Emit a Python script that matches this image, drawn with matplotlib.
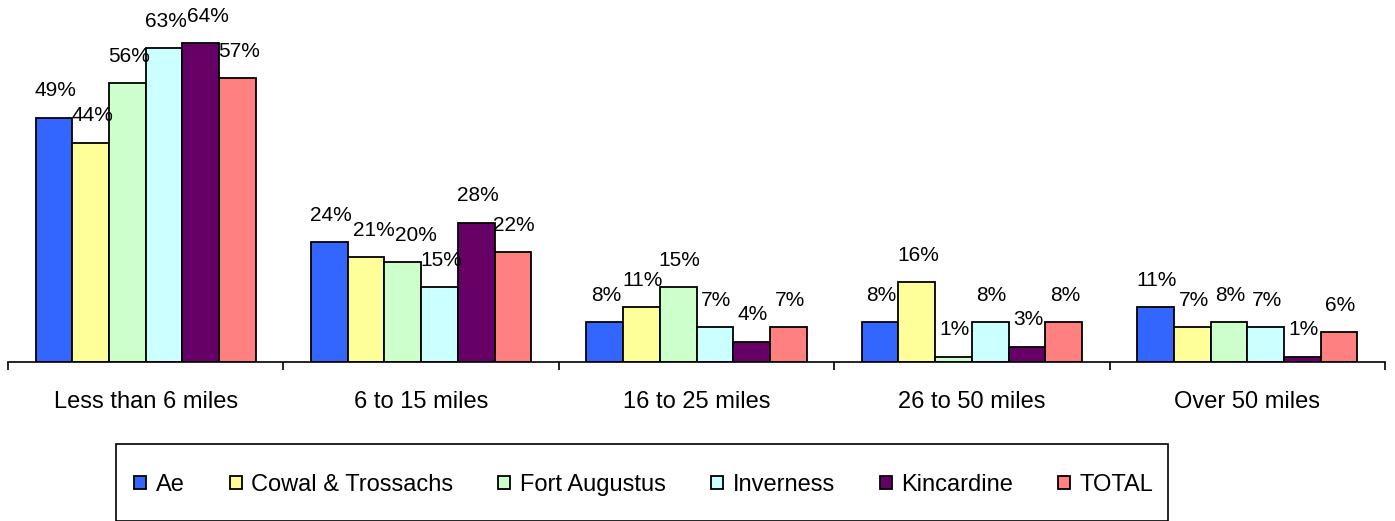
import numpy as np
import matplotlib.pyplot as plt
from matplotlib.patches import Rectangle
from matplotlib.transforms import offset_copy

plt.rcParams['font.family'] = ['Liberation Sans', 'DejaVu Sans']

categories = ["Less than 6 miles", "6 to 15 miles", "16 to 25 miles", "26 to 50 miles", "Over 50 miles"]
series = ["Ae", "Cowal & Trossachs", "Fort Augustus", "Inverness", "Kincardine", "TOTAL"]
ae = [49, 24, 8, 8, 11]
cowal = [44, 21, 11, 16, 7]
fort_augustus = [56, 20, 15, 1, 8]
inverness = [63, 15, 7, 8, 7]
kincardine = [64, 28, 4, 3, 1]
total = [57, 22, 7, 8, 6]
colors = ["#3366FF", "#FFFF99", "#CCFFCC", "#CCFFFF", "#660066", "#FF8080"]

values = [ae, cowal, fort_augustus, inverness, kincardine, total]

fig = plt.figure(figsize=(13.95, 5.21), dpi=100)
ax = fig.add_axes([8 / 1395, (521 - 362) / 521, 1377 / 1395, 362 / 521])

x = np.arange(len(categories))
width = 1 / 7.5
handles = []
labels = [[] for _ in categories]
for i, (name, vals, col) in enumerate(zip(series, values, colors)):
    pos = x - 3 * width + (i + 0.5) * width
    bars = ax.bar(pos, vals, width, color=col, edgecolor="black", linewidth=1.3, label=name)
    handles.append(bars)
    for j, (px, v) in enumerate(zip(pos, vals)):
        t = ax.annotate(f"{v}%", (px, v), xytext=(1, 19.5), textcoords="offset points",
                        ha="center", va="center", fontsize=15)
        labels[j].append(t)

ax.set_xlim(-0.5, len(categories) - 0.5)
ax.set_ylim(0, 72.7)
for side in ["left", "right", "top"]:
    ax.spines[side].set_visible(False)
ax.spines["bottom"].set_linewidth(1.2)
ax.set_yticks([])
ax.set_xticks(np.arange(len(categories) + 1) - 0.5, minor=True)
ax.set_xticks(x)
ax.set_xticklabels(categories, fontsize=17)
ax.tick_params(axis="x", which="major", length=0, pad=21)
ax.tick_params(axis="x", which="minor", length=6, width=1.2, direction="out")

# legend box runs off the bottom edge of the figure
fig.patches.append(Rectangle((116 / 1395, 0), 1052 / 1395, 77 / 521, transform=fig.transFigure,
                             facecolor="none", edgecolor="black", linewidth=1.2, clip_on=False))
fig.legend(handles=handles, loc="center", bbox_to_anchor=(644 / 1395, 1 - 485 / 521), ncol=6,
           frameon=False, fontsize=17, handlelength=0.5, handleheight=0.5,
           handletextpad=0.42, columnspacing=1.9)

# push value labels apart where neighbours collide
fig.canvas.draw()
renderer = fig.canvas.get_renderer()
for group in labels:
    prev = None
    for t in group:
        bb = t.get_window_extent(renderer)
        if prev is not None and bb.overlaps(prev):
            shift = prev.x1 - bb.x0 + 1
            t.xyann = (t.xyann[0] + shift * 72 / fig.dpi, t.xyann[1])
            bb = t.get_window_extent(renderer)
        prev = bb

fig.savefig("out.png", dpi=100)
